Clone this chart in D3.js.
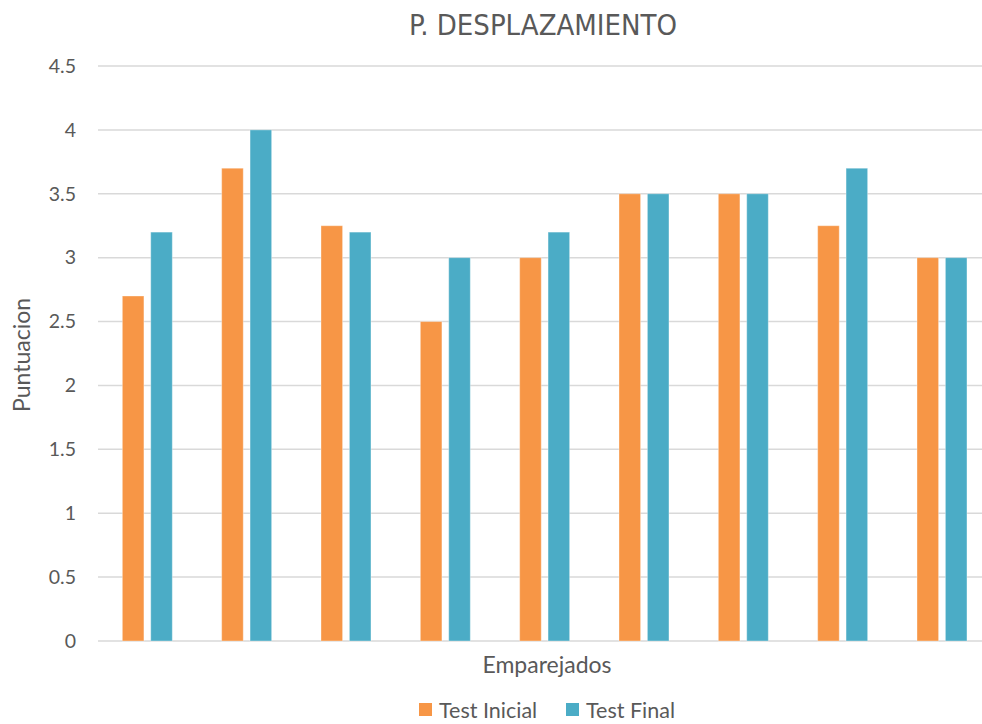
<!DOCTYPE html>
<html>
<head>
<meta charset="utf-8">
<script src="https://cdn.jsdelivr.net/npm/d3@7"></script>
<style>
  body { margin: 0; background: #fff; }
  svg { display: block; font-family: Lato, "Open Sans", sans-serif; }
</style>
</head>
<body>
<script>
// data
const categories = ['1', '2', '3', '4', '5', '6', '7', '8', '9']
const seriesNames = ['Test Inicial', 'Test Final']
const testInicial = [2.7, 3.7, 3.25, 2.5, 3.0, 3.5, 3.5, 3.25, 3.0]
const testFinal = [3.2, 4.0, 3.2, 3.0, 3.2, 3.5, 3.5, 3.7, 3.0]
const yTicks = [0, 0.5, 1, 1.5, 2, 2.5, 3, 3.5, 4, 4.5]
const colors = ['#F79646', '#4BACC6']

const width = 982
const height = 724
const margin = { left: 98, right: -10, top: 66, bottom: 83 }

const svg = d3.select('body').append('svg')
  .attr('width', width)
  .attr('height', height)

const x0 = d3.scaleBand()
  .domain(categories)
  .range([margin.left, width - margin.right])

const x1 = d3.scaleBand()
  .domain(seriesNames)
  .range([x0.bandwidth() * 0.245, x0.bandwidth() * 0.748])
  .paddingInner(0.24)

const y = d3.scaleLinear()
  .domain([0, 4.5])
  .range([height - margin.bottom, margin.top])

// gridlines
svg.append('g')
  .selectAll('line')
  .data(yTicks)
  .join('line')
  .attr('x1', margin.left)
  .attr('x2', width)
  .attr('y1', d => y(d))
  .attr('y2', d => y(d))
  .attr('stroke', '#d9d9d9')
  .attr('stroke-width', 1.5)

// y axis labels
const yAxis = svg.append('g')
  .attr('transform', `translate(${margin.left - 22},0)`)
  .call(d3.axisLeft(y).tickValues(yTicks).tickSize(0).tickPadding(0).tickFormat(d3.format('')))
yAxis.select('.domain').remove()
yAxis.selectAll('text')
  .attr('fill', '#595959')
  .style('font-size', '19.5px')
  .style('font-family', 'Lato, sans-serif')

// bars
const rows = categories.map((c, i) => ({ cat: c, vals: [testInicial[i], testFinal[i]] }))
svg.append('g')
  .selectAll('g')
  .data(rows)
  .join('g')
  .attr('transform', d => `translate(${x0(d.cat)},0)`)
  .selectAll('rect')
  .data(d => d.vals.map((v, k) => ({ key: seriesNames[k], v, k })))
  .join('rect')
  .attr('x', d => x1(d.key))
  .attr('width', x1.bandwidth())
  .attr('y', d => y(d.v))
  .attr('height', d => y(0) - y(d.v))
  .attr('fill', d => colors[d.k])
  .attr('stroke', '#ffffff')
  .attr('stroke-opacity', 0.35)
  .attr('stroke-width', 1)

// title
svg.append('text')
  .attr('x', 543)
  .attr('y', 35)
  .attr('text-anchor', 'middle')
  .attr('fill', '#595959')
  .style('font-size', '29px')
  .style('font-family', '"Liberation Sans Narrow", "DejaVu Sans Condensed", sans-serif')
  .text('P. DESPLAZAMIENTO')

// axis titles
svg.append('text')
  .attr('x', 547)
  .attr('y', 673)
  .attr('text-anchor', 'middle')
  .attr('fill', '#595959')
  .style('font-size', '23px')
  .text('Emparejados')

svg.append('text')
  .attr('transform', 'translate(30,355) rotate(-90)')
  .attr('text-anchor', 'middle')
  .attr('fill', '#595959')
  .style('font-size', '23px')
  .text('Puntuacion')

// legend
const legend = svg.append('g')
  .selectAll('g')
  .data(seriesNames)
  .join('g')
  .attr('transform', (d, i) => `translate(${[419, 566][i]},703)`)
legend.append('rect')
  .attr('width', 13)
  .attr('height', 13)
  .attr('fill', (d, i) => colors[i])
legend.append('text')
  .attr('x', 20)
  .attr('y', 15)
  .attr('fill', '#595959')
  .style('font-size', '21.5px')
  .text(d => d)
</script>
</body>
</html>
